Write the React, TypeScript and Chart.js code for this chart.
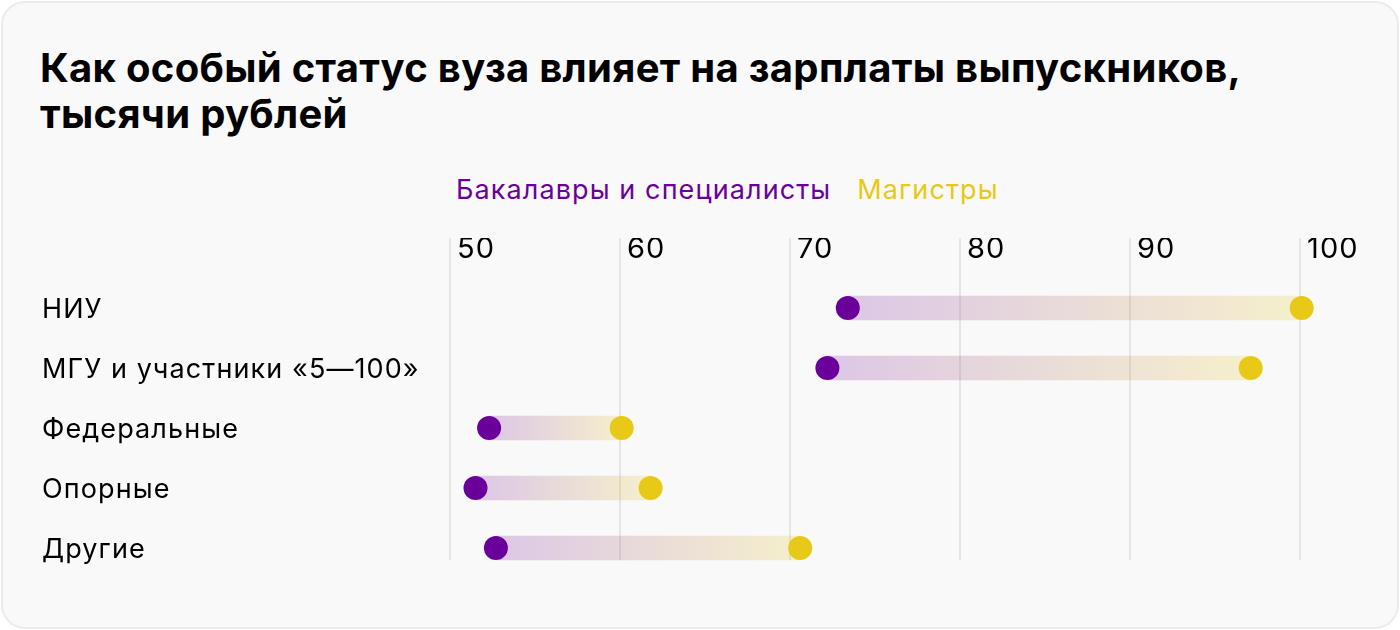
import React, { useEffect, useRef } from 'react';
import { Chart, registerables } from 'chart.js';

Chart.register(...registerables);

const titleLines = ['Как особый статус вуза влияет на зарплаты выпускников,', 'тысячи рублей'];
const seriesNames = ['Бакалавры и специалисты', 'Магистры'];
const categories = ['НИУ', 'МГУ и участники «5—100»', 'Федеральные', 'Опорные', 'Другие'];
const bachelors = [73.4, 72.2, 52.3, 51.5, 52.7];
const masters = [100.1, 97.1, 60.1, 61.8, 70.6];
const xTickValues = [50, 60, 70, 80, 90, 100];

const PURPLE = '#6a0099';
const YELLOW = '#e8c917';
const FONT = 'Inter';

const gridPlugin = {
  id: 'customGrid',
  beforeDraw(chart: any) {
    (chart.ctx as any).letterSpacing = '1.1px';
  },
  beforeDatasetsDraw(chart: any) {
    const { ctx, scales } = chart;
    const x = scales.x;
    const y = scales.y;
    const top = x.top;
    const bottom = y.getPixelForValue(categories.length - 1) + 12;
    ctx.save();
    ctx.strokeStyle = '#dedede';
    ctx.lineWidth = 1.5;
    x.ticks.forEach((_t: any, i: number) => {
      const px = x.getPixelForTick(i);
      ctx.beginPath();
      ctx.moveTo(px, top);
      ctx.lineTo(px, bottom);
      ctx.stroke();
    });
    ctx.restore();
  },
  afterDraw(chart: any) {
    (chart.ctx as any).letterSpacing = '0px';
  },
};

export default function App() {
  const canvasRef = useRef<HTMLCanvasElement | null>(null);

  useEffect(() => {
    document.body.style.margin = '0';
    const canvas = canvasRef.current;
    if (!canvas) return;
    const chart = new Chart(canvas, {
      type: 'bar',
      data: {
        labels: categories,
        datasets: [
          {
            type: 'bar',
            data: categories.map((_, i) => [bachelors[i], masters[i]]),
            backgroundColor: (c: any) => {
              const ch = c.chart;
              if (!ch.chartArea) return 'rgba(0,0,0,0)';
              const xs = ch.scales.x;
              const i = c.dataIndex;
              const x0 = xs.getPixelForValue(bachelors[i]);
              const x1 = xs.getPixelForValue(masters[i]);
              const g = ch.ctx.createLinearGradient(x0, 0, x1, 0);
              g.addColorStop(0, 'rgba(106,0,153,0.2)');
              g.addColorStop(1, 'rgba(232,201,23,0.2)');
              return g;
            },
            borderWidth: 0,
            barThickness: 24,
            order: 3,
          } as any,
          {
            type: 'line',
            label: seriesNames[0],
            data: bachelors,
            indexAxis: 'y',
            showLine: false,
            pointRadius: 12,
            pointHoverRadius: 12,
            pointBackgroundColor: PURPLE,
            pointBorderWidth: 0,
            clip: false,
            order: 1,
          } as any,
          {
            type: 'line',
            label: seriesNames[1],
            data: masters,
            indexAxis: 'y',
            showLine: false,
            pointRadius: 12,
            pointHoverRadius: 12,
            pointBackgroundColor: YELLOW,
            pointBorderWidth: 0,
            clip: false,
            order: 2,
          } as any,
        ],
      },
      options: {
        indexAxis: 'y',
        animation: false,
        responsive: false,
        maintainAspectRatio: false,
        events: [],
        layout: { padding: { top: 38, left: 42, right: 100, bottom: 22 } },
        plugins: { legend: { display: false }, tooltip: { enabled: false } },
        scales: {
          x: {
            type: 'linear',
            position: 'top',
            min: 50,
            max: 100,
            afterBuildTicks: (s: any) => {
              s.ticks = xTickValues.map((v) => ({ value: v }));
            },
            afterFit: (s: any) => {
              s.height = 40;
            },
            grid: { display: false, drawTicks: false },
            border: { display: false },
            ticks: {
              align: 'start',
              labelOffset: 7,
              padding: 11,
              color: '#000',
              font: { family: FONT, size: 29 },
            },
          },
          y: {
            type: 'category',
            offset: true,
            afterFit: (s: any) => {
              s.width = 408;
            },
            grid: { display: false, drawTicks: false },
            border: { display: false },
            ticks: {
              crossAlign: 'far',
              padding: 0,
              labelOffset: 2,
              color: '#000',
              font: { family: FONT, size: 27 },
            },
          },
        },
      } as any,
      plugins: [gridPlugin],
    });

    return () => chart.destroy();
  }, []);

  return (
    <div style={{ position: 'relative', width: 1400, height: 630, background: '#fff', overflow: 'hidden' }}>
      <div
        style={{
          position: 'absolute',
          left: 1,
          top: 1,
          width: 1398,
          height: 628,
          boxSizing: 'border-box',
          border: '2px solid #ebebeb',
          borderRadius: 24,
          background: '#f9f9f9',
        }}
      />
      <div
        style={{
          position: 'absolute',
          left: 40,
          top: 45,
          fontFamily: FONT,
          fontWeight: 700,
          fontSize: 40,
          letterSpacing: '0.3px',
          lineHeight: '46px',
          color: '#000',
          whiteSpace: 'nowrap',
        }}
      >
        {titleLines.map((l, i) => (
          <div key={i}>{l}</div>
        ))}
      </div>
      <div
        style={{
          position: 'absolute',
          left: 456,
          top: 174,
          fontFamily: FONT,
          fontSize: 27,
          letterSpacing: '1.1px',
          lineHeight: '32px',
          whiteSpace: 'nowrap',
        }}
      >
        <span style={{ color: PURPLE, marginRight: 26 }}>{seriesNames[0]}</span>
        <span style={{ color: YELLOW }}>{seriesNames[1]}</span>
      </div>
      <canvas
        ref={canvasRef}
        width={1400}
        height={400}
        style={{ position: 'absolute', left: 0, top: 200, width: 1400, height: 400 }}
      />
    </div>
  );
}
